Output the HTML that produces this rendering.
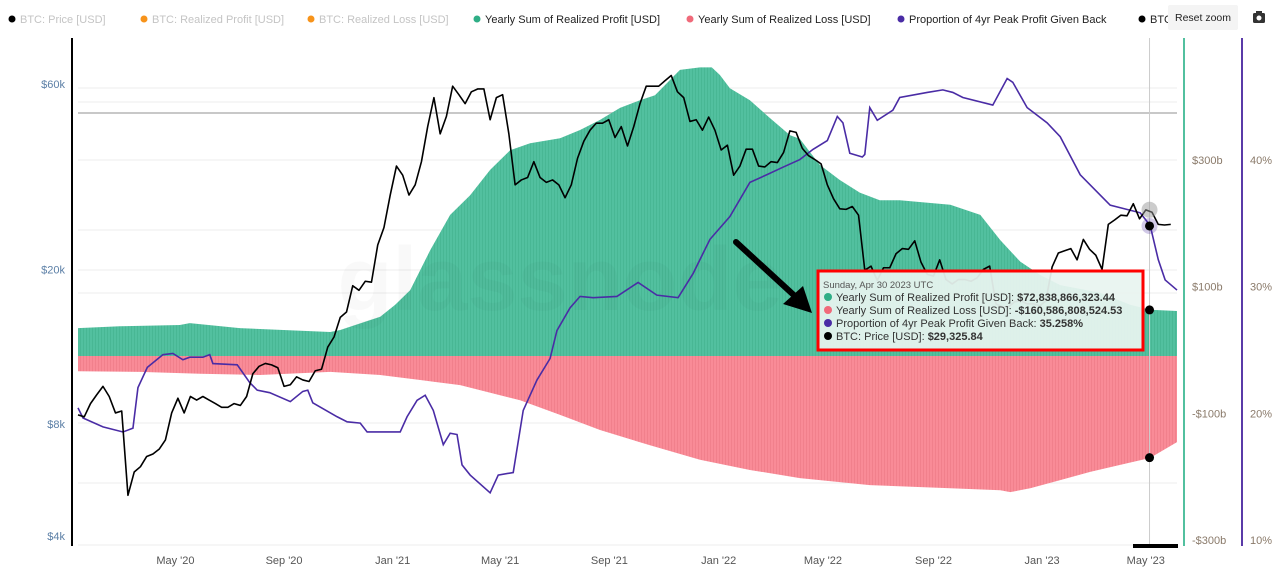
<!DOCTYPE html>
<html><head><meta charset="utf-8"><style>
html,body{margin:0;padding:0;background:#fff;width:1287px;height:584px;overflow:hidden;font-family:"Liberation Sans",sans-serif;}
svg text{font-family:"Liberation Sans",sans-serif;}
</style></head><body>
<svg id="chart" width="1287" height="584" xmlns="http://www.w3.org/2000/svg">
<defs>
<pattern id="stripeG" width="3" height="10" patternUnits="userSpaceOnUse"><rect width="3" height="10" fill="#52c09f"/><rect x="2.2" width="0.8" height="10" fill="#45b592"/></pattern>
<pattern id="stripeR" width="3" height="10" patternUnits="userSpaceOnUse"><rect width="3" height="10" fill="#f98b97"/><rect x="2.2" width="0.8" height="10" fill="#ef7d8a"/></pattern>
</defs>
<g id="grid"></g>
<g id="bars"></g>
<text x="560" y="310" font-size="90" fill="#000" fill-opacity="0.025" text-anchor="middle" font-weight="bold">glassnode</text>
<g id="lines"></g>
<g id="axes"></g>
<g id="legend"></g>
</svg>
<script>
// weeks since 2020-01-13
const priceValues=[8700,8600,9300,9800,10300,9700,8800,8900,5400,6200,6400,6800,6900,7100,7500,8800,9600,8800,9700,9500,9700,9500,9300,9100,9100,9300,9200,9700,11100,11600,11800,11700,11500,10300,10400,10900,10700,10600,11300,11400,13000,13800,15500,16000,18700,18200,19200,19100,23800,26400,32000,
38000,36000,32000,34000,39000,48000,57000,46000,51000,61000,58000,55000,59000,60000,60000,50000,57000,58000,46000,34000,35000,35500,39000,35500,34500,35000,34000,31500,34000,39800,44000,47000,49000,49000,50000,45000,48000,42800,48000,55000,61000,61000,61000,63000,65000,59000,57000,49500,50000,47000,50800,47000,
41800,43000,36000,38000,42000,42000,38000,37800,39000,38800,41200,46800,46400,42200,40400,39500,38500,34000,31300,29500,29400,29900,28400,20500,21000,19300,20800,20800,22600,23300,23200,24400,21500,20000,19800,21800,19400,18900,19400,19400,19200,19600,20600,21000,16800,16500,16500,17000,17100,16800,16800,16600,
17100,20900,22700,23000,23300,21800,24600,23200,22400,20600,26900,27600,28400,28300,30400,27800,29300,28900,26900,26800,26900];
const profitWeeks=[0,6.7,16.3,17.9,25.9,40.4,42,44.4,48.4,50.8,53.2,56.4,59.6,62.8,66,69.2,72.4,77.2,80.4,83.6,86.8,90,92.4,96.4,99.6,101.5,102.8,104.4,107.6,110.8,114,115.6,118.8,122,125.2,128.4,131.6,139.7,144.5,147.7,150.9,154.1,157.3,163.7,168.5,171.7,176];
const profitValues=[44,47,49,52,44,38,41,49,62,81,104,167,223,254,294,325,336,344,357,373,392,404,412,452,456,456,444,423,404,376,349,343,302,278,258,246,246,239,223,183,149,128,112,100,81,73,71];
const lossWeeks=[0,9.9,19.5,29.1,40.4,48.4,54.8,61.2,67.6,70.8,77.2,83.6,91.6,99.6,107.6,115.6,126.8,139.7,147.7,149.3,152.5,157.3,162.1,166.9,171.7,176];
const lossValues=[-24,-25,-28,-30,-25,-30,-38,-46,-62,-70,-93,-117,-141,-164,-180,-193,-204,-209,-212,-215,-209,-196,-183,-172,-161,-136];
const propWeeks=[0,0.8,4,7.2,8.8,9.6,11.1,13.6,15.2,16.8,17.9,20,21.1,21.6,25.5,27.5,28.7,30.7,34,36,36.8,37.6,41.5,43.1,45.2,46.3,51.6,52.7,54.3,55.6,56.9,58.5,59.6,60.7,61.5,62.8,66,67.3,69.7,71.3,73.5,75.6,76.7,78.8,80.4,82.5,86.3,89.7,92.7,96.1,98.5,101.2,104.4,107.6,110.3,112.9,115.6,117.7,120,121.6,122.5,123.6,125.6,126,126.8,128,130.5,131.6,136,138.5,140.1,141.7,146.5,148.8,149.7,152,155.2,157.3,160.5,163.7,165.3,170.1,171.7,173,174.1,176];
const propValues=[20.9,20.1,19.4,19.0,19.3,22.5,24.1,25.1,25.2,24.7,24.9,24.9,25.1,24.4,24.3,22.9,22.3,22.1,21.4,22.2,22.3,21.3,20.2,19.8,19.7,19.0,19.0,20.2,21.5,21.9,20.7,18.0,18.9,18.8,16.4,15.6,14.2,15.6,15.8,20.7,23.1,24.8,27.0,28.8,29.7,29.6,29.7,30.8,29.8,29.6,31.5,34.2,36.0,38.7,39.3,39.9,40.5,41.3,42.0,43.9,43.4,41.0,40.7,40.9,44.6,43.6,44.4,45.4,45.8,46.0,45.8,45.4,44.8,46.9,46.6,44.6,43.4,42.3,39.3,37.7,36.9,36.3,35.3,32.6,31.0,30.2];
const priceTicks=[60000,20000,8000,4000];
const priceTickLabels=["$60k","$20k","$8k","$4k"];
const usdTicks=[300,100,-100,-300];
const usdTickLabels=["$300b","$100b","-$100b","-$300b"];
const pctTicks=[40,30,20,10];
const pctTickLabels=["40%","30%","20%","10%"];
const xTickWeeks=[15.6,33,50.4,67.6,85.1,102.6,119.3,137,154.4,171];
const xTickLabels=["May '20","Sep '20","Jan '21","May '21","Sep '21","Jan '22","May '22","Sep '22","Jan '23","May '23"];
const hoverWeek=171.6;
const hoverPrice=29325.84, hoverProfit=72.84, hoverLoss=-160.59, hoverProp=35.258;

const NS="http://www.w3.org/2000/svg";
const X0=78,X1=1177,BOT=546;
const xW=w=>X0+w*(X1-X0)/176;
const yP=p=>BOT-(Math.log10(p)-Math.log10(4000))*388.6;
const yU=v=>356-v*0.633;
const yPct=p=>BOT-(p-10)*12.67;
function el(tag,attrs,parent,text){const e=document.createElementNS(NS,tag);for(const k in attrs)e.setAttribute(k,attrs[k]);if(text!==undefined)e.textContent=text;parent.appendChild(e);return e;}
const grid=document.getElementById('grid'),bars=document.getElementById('bars'),lines=document.getElementById('lines'),axes=document.getElementById('axes'),legend=document.getElementById('legend');

[88,102,160,230,270,293,423,483,545].forEach(y=>{const g=el('line',{x1:X0,x2:X1,y1:y,y2:y,stroke:'#ececec','stroke-width':1},grid);

});
const hl=el('line',{x1:X0,x2:X1,y1:113,y2:113,stroke:'#c8c8c8','stroke-width':2},grid);



let d='M'+xW(profitWeeks[0])+','+yU(0);
profitWeeks.forEach((w,i)=>{d+=' L'+xW(w)+','+yU(profitValues[i]);});
d+=' L'+xW(profitWeeks[profitWeeks.length-1])+','+yU(0)+' Z';
const pa=el('path',{d:d,fill:'url(#stripeG)'},bars);


d='M'+xW(lossWeeks[0])+','+yU(0);
lossWeeks.forEach((w,i)=>{d+=' L'+xW(w)+','+yU(lossValues[i]);});
d+=' L'+xW(lossWeeks[lossWeeks.length-1])+','+yU(0)+' Z';
const la=el('path',{d:d,fill:'url(#stripeR)'},bars);



const ch=el('line',{x1:xW(hoverWeek),x2:xW(hoverWeek),y1:38,y2:BOT,stroke:'#ccc','stroke-width':1},lines);



const pp=el('polyline',{points:propWeeks.map((w,i)=>xW(w)+','+yPct(propValues[i])).join(' '),fill:'none',stroke:'#4a2ca5','stroke-width':1.6},lines);


const pr=el('polyline',{points:priceValues.map((v,i)=>xW(i)+','+yP(v)).join(' '),fill:'none',stroke:'#000','stroke-width':1.6,'stroke-linejoin':'round'},lines);



const hx=xW(hoverWeek);
el('circle',{cx:hx,cy:yP(hoverPrice),r:8,fill:'#999','fill-opacity':0.5},lines);
el('circle',{cx:hx,cy:yPct(hoverProp),r:8,fill:'#4a2ca5','fill-opacity':0.25},lines);
[[yPct(hoverProp),'marker-proportion'],[yU(hoverProfit),'marker-profit'],[yU(hoverLoss),'marker-loss']].forEach(a=>{const c=el('circle',{cx:hx,cy:a[0],r:4.5,fill:'#000'},lines);

});

const ar=el('g',{},lines);


el('line',{x1:736,y1:242,x2:797,y2:298,stroke:'#000','stroke-width':6,'stroke-linecap':'round'},ar);
el('polygon',{points:'812,313 783,304 803,286',fill:'#000'},ar);

const tt=el('g',{},lines);


el('rect',{x:818,y:271,width:325,height:79,fill:'#e8f4f0','fill-opacity':0.93,stroke:'#f00','stroke-width':3},tt);
el('text',{x:823,y:288,'font-size':9.5,fill:'#555'},tt,'Sunday, Apr 30 2023 UTC');
const rows=[['#2fae86','Yearly Sum of Realized Profit [USD]: ','$72,838,866,323.44'],['#f06a7a','Yearly Sum of Realized Loss [USD]: ','-$160,586,808,524.53'],['#4a2ca5','Proportion of 4yr Peak Profit Given Back: ','35.258%'],['#000','BTC: Price [USD]: ','$29,325.84']];
rows.forEach((r,i)=>{const y=301+i*13;el('circle',{cx:828,cy:y-4,r:4,fill:r[0]},tt);
const t=el('text',{x:836,y:y,'font-size':11,fill:'#333'},tt);
el('tspan',{},t,r[1]);el('tspan',{'font-weight':'bold'},t,r[2]);});

const la2=el('line',{x1:72,x2:72,y1:38,y2:BOT,stroke:'#000','stroke-width':2},axes);


const ga=el('line',{x1:1184,x2:1184,y1:38,y2:BOT,stroke:'#52c09f','stroke-width':2},axes);


const pa2=el('line',{x1:1242,x2:1242,y1:38,y2:BOT,stroke:'#5a3aa8','stroke-width':2},axes);


priceTicks.forEach((p,i)=>{const t=el('text',{x:65,y:Math.min(yP(p),541)-1,'font-size':11,fill:'#5b7fa6','text-anchor':'end'},axes,priceTickLabels[i]);

});
usdTicks.forEach((v,i)=>{const t=el('text',{x:1192,y:yU(v)-2,'font-size':11,fill:'#8a7a6a'},axes,usdTickLabels[i]);

});
pctTicks.forEach((v,i)=>{const t=el('text',{x:1250,y:yPct(v)-2,'font-size':11,fill:'#8a7a6a'},axes,pctTickLabels[i]);

});
xTickWeeks.forEach((w,i)=>{const t=el('text',{x:xW(w),y:564,'font-size':11,fill:'#555','text-anchor':'middle'},axes,xTickLabels[i]);

});
const nb=el('rect',{x:1133,y:544,width:45,height:4,fill:'#000'},axes);



const items=[[8,'#000','BTC: Price [USD]','#c4c4c4'],[140,'#f7931a','BTC: Realized Profit [USD]','#c4c4c4'],[307,'#f7931a','BTC: Realized Loss [USD]','#c4c4c4'],[473,'#2fae86','Yearly Sum of Realized Profit [USD]','#222'],[686,'#f06a7a','Yearly Sum of Realized Loss [USD]','#222'],[897,'#4a2ca5','Proportion of 4yr Peak Profit Given Back','#222'],[1138,'#000','BTC','#222']];
items.forEach(it=>{const g=el('g',{},legend);


el('circle',{cx:it[0]+4,cy:19,r:3.5,fill:it[1]},g);
el('text',{x:it[0]+12,y:23,'font-size':11,fill:it[3]},g,it[2]);});
const rz=el('g',{},legend);


el('rect',{x:1168,y:5,width:70,height:25,rx:2,fill:'#f4f4f4'},rz);
el('text',{x:1203,y:21,'font-size':10.5,fill:'#222','text-anchor':'middle'},rz,'Reset zoom');
const cam=el('g',{},legend);


el('rect',{x:1253,y:13,width:12,height:10,rx:1.5,fill:'#333'},cam);
el('rect',{x:1256,y:11,width:6,height:3,fill:'#333'},cam);
el('circle',{cx:1259,cy:18,r:2.5,fill:'#fff'},cam);
</script>
</body></html>
